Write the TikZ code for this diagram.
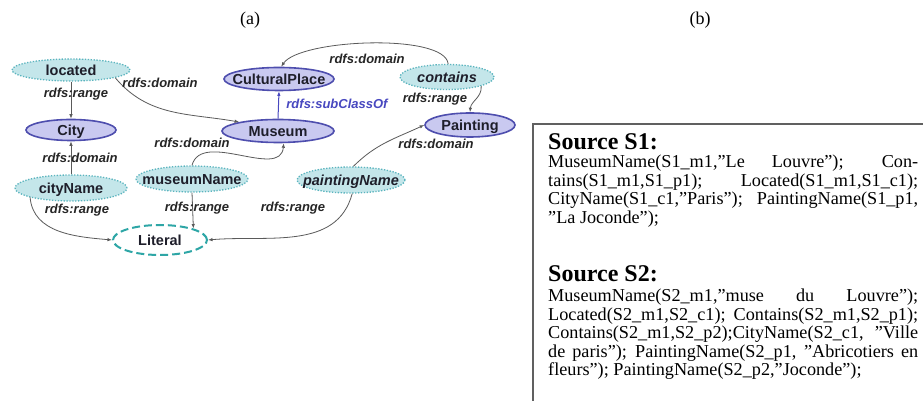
\documentclass[tikz,border=0pt]{standalone}
\usepackage{fontspec}
\setmainfont{Liberation Serif}
\newfontfamily\arialf{Liberation Sans}
\usetikzlibrary{shapes.geometric,arrows.meta}
\definecolor{propfill}{HTML}{C4E6EA}
\definecolor{propdraw}{HTML}{5AB4BE}
\definecolor{classfill}{HTML}{C9C9F0}
\definecolor{classdraw}{HTML}{4E4EAE}
\definecolor{litdraw}{HTML}{2EA6A6}
\definecolor{edgecol}{HTML}{5A5A5A}
\definecolor{subcol}{HTML}{4848C0}
\definecolor{nodetext}{HTML}{1E1E2A}
\definecolor{boxline}{HTML}{606060}
\begin{document}
\begin{tikzpicture}[x=1pt,y=1pt,
  basenode/.style={ellipse, inner xsep=-40pt, inner ysep=-5pt, text height=10.4pt, text depth=0pt,
    font=\arialf\bfseries\fontsize{14.5}{16}\selectfont, text=nodetext},
  ital/.style={font=\arialf\bfseries\itshape\fontsize{14.5}{16}\selectfont},
  propnode/.style={basenode, fill=propfill, draw=propdraw, line width=1.3pt, dash pattern=on 1.3pt off 1.6pt},
  classnode/.style={basenode, fill=classfill, draw=classdraw, line width=1.6pt},
  litnode/.style={basenode, fill=white, draw=litdraw, line width=2pt, dash pattern=on 8pt off 4pt},
  lbl/.style={font=\arialf\bfseries\itshape\fontsize{13}{15}\selectfont, text=black!85, inner sep=0pt},
  rel/.style={draw=edgecol, line width=0.8pt, -{Latex[length=4.5pt,width=3.5pt]}},
  subrel/.style={draw=subcol, line width=1pt, -{Latex[length=4.5pt,width=3.5pt]}},
  capt/.style={font=\fontsize{18}{20}\selectfont, inner sep=0pt},
  boxtext/.style={anchor=base west, inner sep=0pt, text=black},
  boxhead/.style={boxtext, font=\fontsize{24}{28}\selectfont\bfseries}
]
\useasboundingbox (0,0) rectangle (923,401);
\fill[white] (0,0) rectangle (923,401);

\node[capt] (capa) at (250,381) {(a)};
\node[capt] (capb) at (700,381) {(b)};

% nodes
\node[propnode, minimum width=118pt, minimum height=22pt] (located) at (71,331) {located};
\node[classnode, minimum width=90pt, minimum height=21pt] (city) at (71,271) {City};
\node[classnode, minimum width=110pt, minimum height=23pt] (cultural) at (279,322) {CulturalPlace};
\node[propnode, ital, minimum width=94pt, minimum height=25pt] (contains) at (447,324) {contains};
\node[classnode, minimum width=112pt, minimum height=23pt] (museum) at (278,270) {Museum};
\node[classnode, minimum width=90pt, minimum height=24pt] (painting) at (470,276) {Painting};
\node[propnode, minimum width=112pt, minimum height=26pt] (cityname) at (71,213) {cityName};
\node[propnode, minimum width=112pt, minimum height=26pt] (museumname) at (192,222) {museumName};
\node[propnode, ital, minimum width=108pt, minimum height=26pt] (paintingname) at (351,221) {paintingName};
\node[litnode, minimum width=94pt, minimum height=30pt] (literal) at (160,161) {Literal};

% connectors
\draw[rel] (located.south) -- (city.north);
\draw[rel] (cityname.north) -- (city.south);
\draw[rel] (located.-10) to[out=-50,in=170] (museum.167);
\draw[rel] (museumname.north) to[out=75,in=-95] (museum.-65);
\draw[rel] (paintingname.80) to[out=45,in=205] (painting.west);
\draw[rel] (contains.-15) to[out=-85,in=85] (painting.north);
\draw[rel] (contains.85) .. controls (445,368) and (300,362) .. (cultural.80);
\draw[subrel] (museum.north) -- (cultural.south);
\draw[rel] (cityname.193) to[out=-85,in=175] (literal.west);
\draw[rel] (museumname.south) -- (literal.19);
\draw[rel] (paintingname.-85) to[out=-105,in=5] (literal.east);

% labels
\node[lbl] (l1) at (76,307) {rdfs:range};
\node[lbl] (l2) at (160,318) {rdfs:domain};
\node[lbl] (l3) at (367,342) {rdfs:domain};
\node[lbl, text=subcol] (l4) at (337,297) {rdfs:subClassOf};
\node[lbl] (l5) at (435,302) {rdfs:range};
\node[lbl] (l6) at (192,258) {rdfs:domain};
\node[lbl] (l7) at (436,257) {rdfs:domain};
\node[lbl] (l8) at (80,243) {rdfs:domain};
\node[lbl] (l9) at (77,191) {rdfs:range};
\node[lbl] (l10) at (197,193) {rdfs:range};
\node[lbl] (l11) at (293,193) {rdfs:range};

% source box
\draw[draw=boxline, line width=1.5pt] (533,0) -- (533,277) -- (923,277);
\node[boxhead] (hs1) at (548,251.9) {Source S1:};
\node[boxtext] (bs1) at (548,233) {\parbox[t]{370pt}{\fontsize{18.2}{18.5}\selectfont\hyphenpenalty=10000
MuseumName(S1\_m1,”Le Louvre”); Con-\linebreak
tains(S1\_m1,S1\_p1); Located(S1\_m1,S1\_c1);\linebreak
CityName(S1\_c1,”Paris”); PaintingName(S1\_p1,\linebreak
”La Joconde”);}};
\node[boxhead] (hs2) at (548,119.9) {Source S2:};
\node[boxtext] (bs2) at (548,99) {\parbox[t]{370pt}{\fontsize{18.2}{18.5}\selectfont\hyphenpenalty=10000
MuseumName(S2\_m1,”muse du Louvre”);\linebreak
Located(S2\_m1,S2\_c1); Contains(S2\_m1,S2\_p1);\linebreak
Contains(S2\_m1,S2\_p2);CityName(S2\_c1, ”Ville\linebreak
de paris”); PaintingName(S2\_p1, ”Abricotiers en\linebreak
fleurs”); PaintingName(S2\_p2,”Joconde”);}};
\end{tikzpicture}
\end{document}
